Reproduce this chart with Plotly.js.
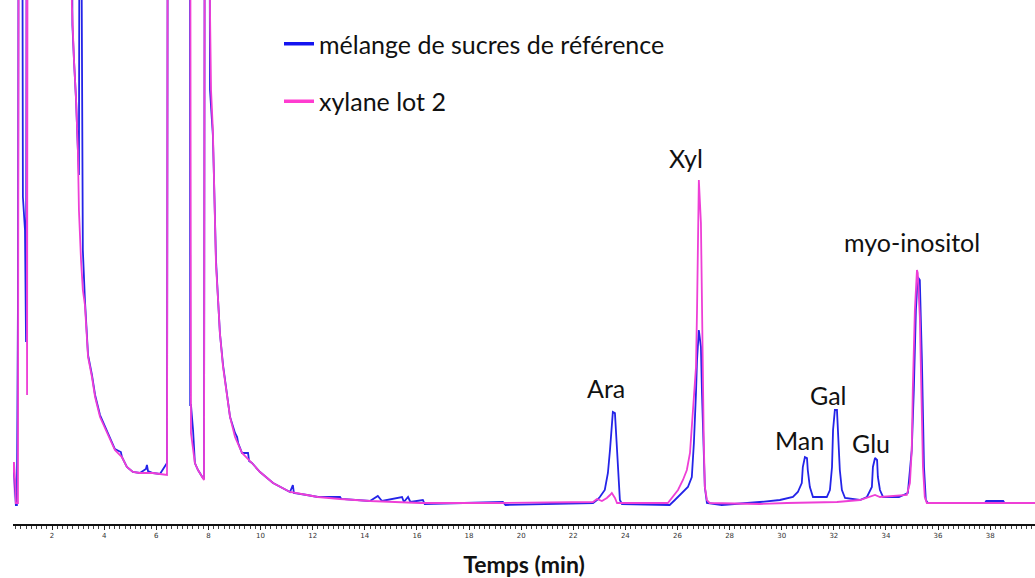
<!DOCTYPE html>
<html>
<head>
<meta charset="utf-8">
<script src="https://cdn.plot.ly/plotly-3.0.1.min.js"></script>
<style>
html,body{margin:0;padding:0;background:#fff;}
#chart{width:1035px;height:578px;}
</style>
</head>
<body>
<div id="chart"></div>
<script>
// Retention time (min) and detector signal (arbitrary units)
var refTime = [0.31,0.42,0.46,0.50,0.54,0.61,0.65,0.69,0.73,0.84,0.88,0.96,1.00,1.04,
  2.72,2.78,2.84,2.92,2.99,3.03,3.07,3.11,3.15,3.18,3.26,3.34,3.38,3.53,3.65,3.84,4.11,4.41,4.64,4.68,4.87,5.10,5.37,5.60,5.64,5.68,5.87,6.14,6.41,6.45,
  7.29,7.30,7.33,7.41,7.48,7.60,7.79,7.83,7.87,
  8.02,8.06,8.10,8.17,8.21,8.25,8.29,8.37,8.44,8.56,8.71,8.83,9.02,9.10,9.14,9.29,9.52,9.56,9.67,9.98,10.48,11.13,11.24,11.28,11.78,12.20,13.05,13.10,14.20,14.50,14.66,15.43,15.50,15.66,15.75,16.23,16.30,19.30,19.40,
  22.76,22.91,23.02,23.21,23.33,23.41,23.48,23.52,23.60,23.68,23.72,23.79,23.87,
  25.70,25.90,26.17,26.40,26.55,26.63,26.71,26.75,26.82,26.90,26.94,27.01,27.05,27.13,27.70,
  29.16,29.93,30.43,30.62,30.77,30.81,30.89,30.97,31.00,31.08,31.20,
  31.73,31.85,31.93,31.97,32.04,32.12,32.16,32.23,32.31,32.43,
  33.00,33.27,33.46,33.50,33.58,33.66,33.69,33.77,33.89,
  34.50,34.84,34.99,35.07,35.15,35.22,35.30,35.38,35.42,35.46,35.53,35.61,
  37.80,37.85,38.50,38.55,39.72];
var refSignal = [0,2,37,42,30,0,0,202,900,900,308,275,163,900,
  900,480,445,405,355,330,900,900,352,255,205,172,150,130,110,90,73,56,53,48,38,33,32,36,40,34,32,31,42,900,
  900,100,100,75,42,35,27,27,900,
  900,415,400,370,330,295,245,205,172,140,110,88,72,68,62,52,52,44,42,33,22,13,20,12,10,8,8,6,4,9,4,8,3,8,3,5,1,3,0,
  2,5,8,15,32,55,85,93,92,55,28,5,1,
  0,5,12,18,28,62,112,145,175,158,112,62,18,2,0,
  3,5,8,13,22,38,48,47,35,18,8,
  8,15,38,75,95,95,68,35,15,7,
  5,8,18,38,47,45,28,15,8,
  8,12,55,115,195,228,225,145,82,38,5,2,
  2,4,4,2,2];

var xylTime = [0.31,0.46,0.50,0.54,0.58,0.61,0.69,0.73,1.00,1.04,1.07,
  2.72,2.76,2.84,2.92,2.99,3.03,3.11,3.18,3.26,3.34,3.38,3.53,3.65,3.84,4.11,4.41,4.68,4.87,5.10,5.37,5.64,5.87,6.14,6.41,6.45,
  7.29,7.33,7.41,7.48,7.60,7.79,7.83,7.87,
  8.02,8.06,8.10,8.17,8.21,8.25,8.29,8.37,8.44,8.56,8.71,8.83,9.02,9.29,9.67,9.98,10.48,11.13,11.78,12.20,13.05,14.20,16.12,19.19,
  22.76,22.91,23.10,23.29,23.41,23.48,23.60,23.68,
  25.63,25.82,26.02,26.21,26.36,26.48,26.55,26.63,26.71,26.75,26.78,26.82,26.90,26.94,26.98,27.01,27.05,27.13,27.24,
  29.16,30.20,32.12,33.00,33.38,33.58,33.77,34.27,34.80,34.92,34.99,35.03,35.11,35.19,35.22,35.30,35.38,35.42,35.49,35.57,39.72];
var xylSignal = [0,0,42,42,25,2,2,900,900,110,900,
  900,500,445,405,355,295,245,215,200,172,148,128,108,88,72,55,48,38,33,32,32,32,31,30,900,
  900,72,55,42,35,27,25,900,
  900,495,415,375,328,295,240,205,172,138,108,88,68,52,42,33,22,13,10,8,6,4,2,2,
  3,6,4,7,10,12,7,2,
  2,8,15,25,35,52,78,105,138,195,278,325,282,178,125,62,18,5,2,
  1,2,3,5,8,10,8,9,10,22,55,115,195,235,232,188,105,38,8,2,2];

var seriesNames = ['mélange de sucres de référence', 'xylane lot 2'];
var peakLabels = ['Ara', 'Xyl', 'Man', 'Gal', 'Glu', 'myo-inositol'];
var peakLabelTime = [23.26, 26.33, 30.70, 31.81, 33.42, 35.00];
var peakLabelSignal = [117, 347, 65, 110, 62, 263];
var tickVals = [2,4,6,8,10,12,14,16,18,20,22,24,26,28,30,32,34,36,38];

var blue = '#2424e8';
var pink = '#ee3fd6';
var legendBlue = '#1414f0';
var legendPink = '#ff3cd0';
var textFont = 'Lato, "Open Sans", sans-serif';

var traces = [
  {x: refTime, y: refSignal, type: 'scatter', mode: 'lines', name: seriesNames[0],
   showlegend: false, line: {color: blue, width: 1.8}},
  {x: xylTime, y: xylSignal, type: 'scatter', mode: 'lines', name: seriesNames[1],
   showlegend: false, line: {color: pink, width: 1.8}},
  // legend keys (thicker line samples, as in the original legend)
  {x: [null], y: [null], type: 'scatter', mode: 'lines', name: seriesNames[0],
   legendgroup: 'a', line: {color: legendBlue, width: 3.5}},
  {x: [null], y: [null], type: 'scatter', mode: 'lines', name: seriesNames[1],
   legendgroup: 'b', line: {color: legendPink, width: 3.5}}
];

var annotations = peakLabels.map(function (t, i) {
  return {x: peakLabelTime[i], y: peakLabelSignal[i], xref: 'x', yref: 'y', text: t,
    showarrow: false, font: {family: textFont, size: 25, color: '#111'}};
});

var layout = {
  width: 1035, height: 578,
  margin: {l: 13, r: 0, t: 0, b: 54},
  paper_bgcolor: '#fff', plot_bgcolor: '#fff',
  showlegend: true,
  legend: {x: (279 - 13) / 1022, xanchor: 'left', y: 1 - 21 / 524, yanchor: 'top',
    font: {family: textFont, size: 25, color: '#111'},
    tracegroupgap: 22, bgcolor: 'rgba(0,0,0,0)', traceorder: 'grouped'},
  xaxis: {range: [0.5, 39.72], showgrid: false, zeroline: false,
    showline: true, linecolor: '#111', linewidth: 1.5,
    tickmode: 'array', tickvals: tickVals, ticktext: tickVals.map(String),
    ticks: 'outside', ticklen: 4, tickwidth: 1, tickcolor: '#222',
    minor: {dtick: 0.2, tick0: 0, ticks: 'outside', ticklen: 3, tickwidth: 1, tickcolor: '#444', showgrid: false},
    tickfont: {family: '"DejaVu Sans", sans-serif', size: 7, color: '#333'},
    title: {text: '<b>Temps (min)</b>', standoff: 18,
      font: {family: textFont, size: 23, color: '#111'}}},
  yaxis: {range: [-19, 505], visible: false, showgrid: false, zeroline: false},
  annotations: annotations
};

Plotly.newPlot('chart', traces, layout, {displayModeBar: false, staticPlot: true});
</script>
</body>
</html>
